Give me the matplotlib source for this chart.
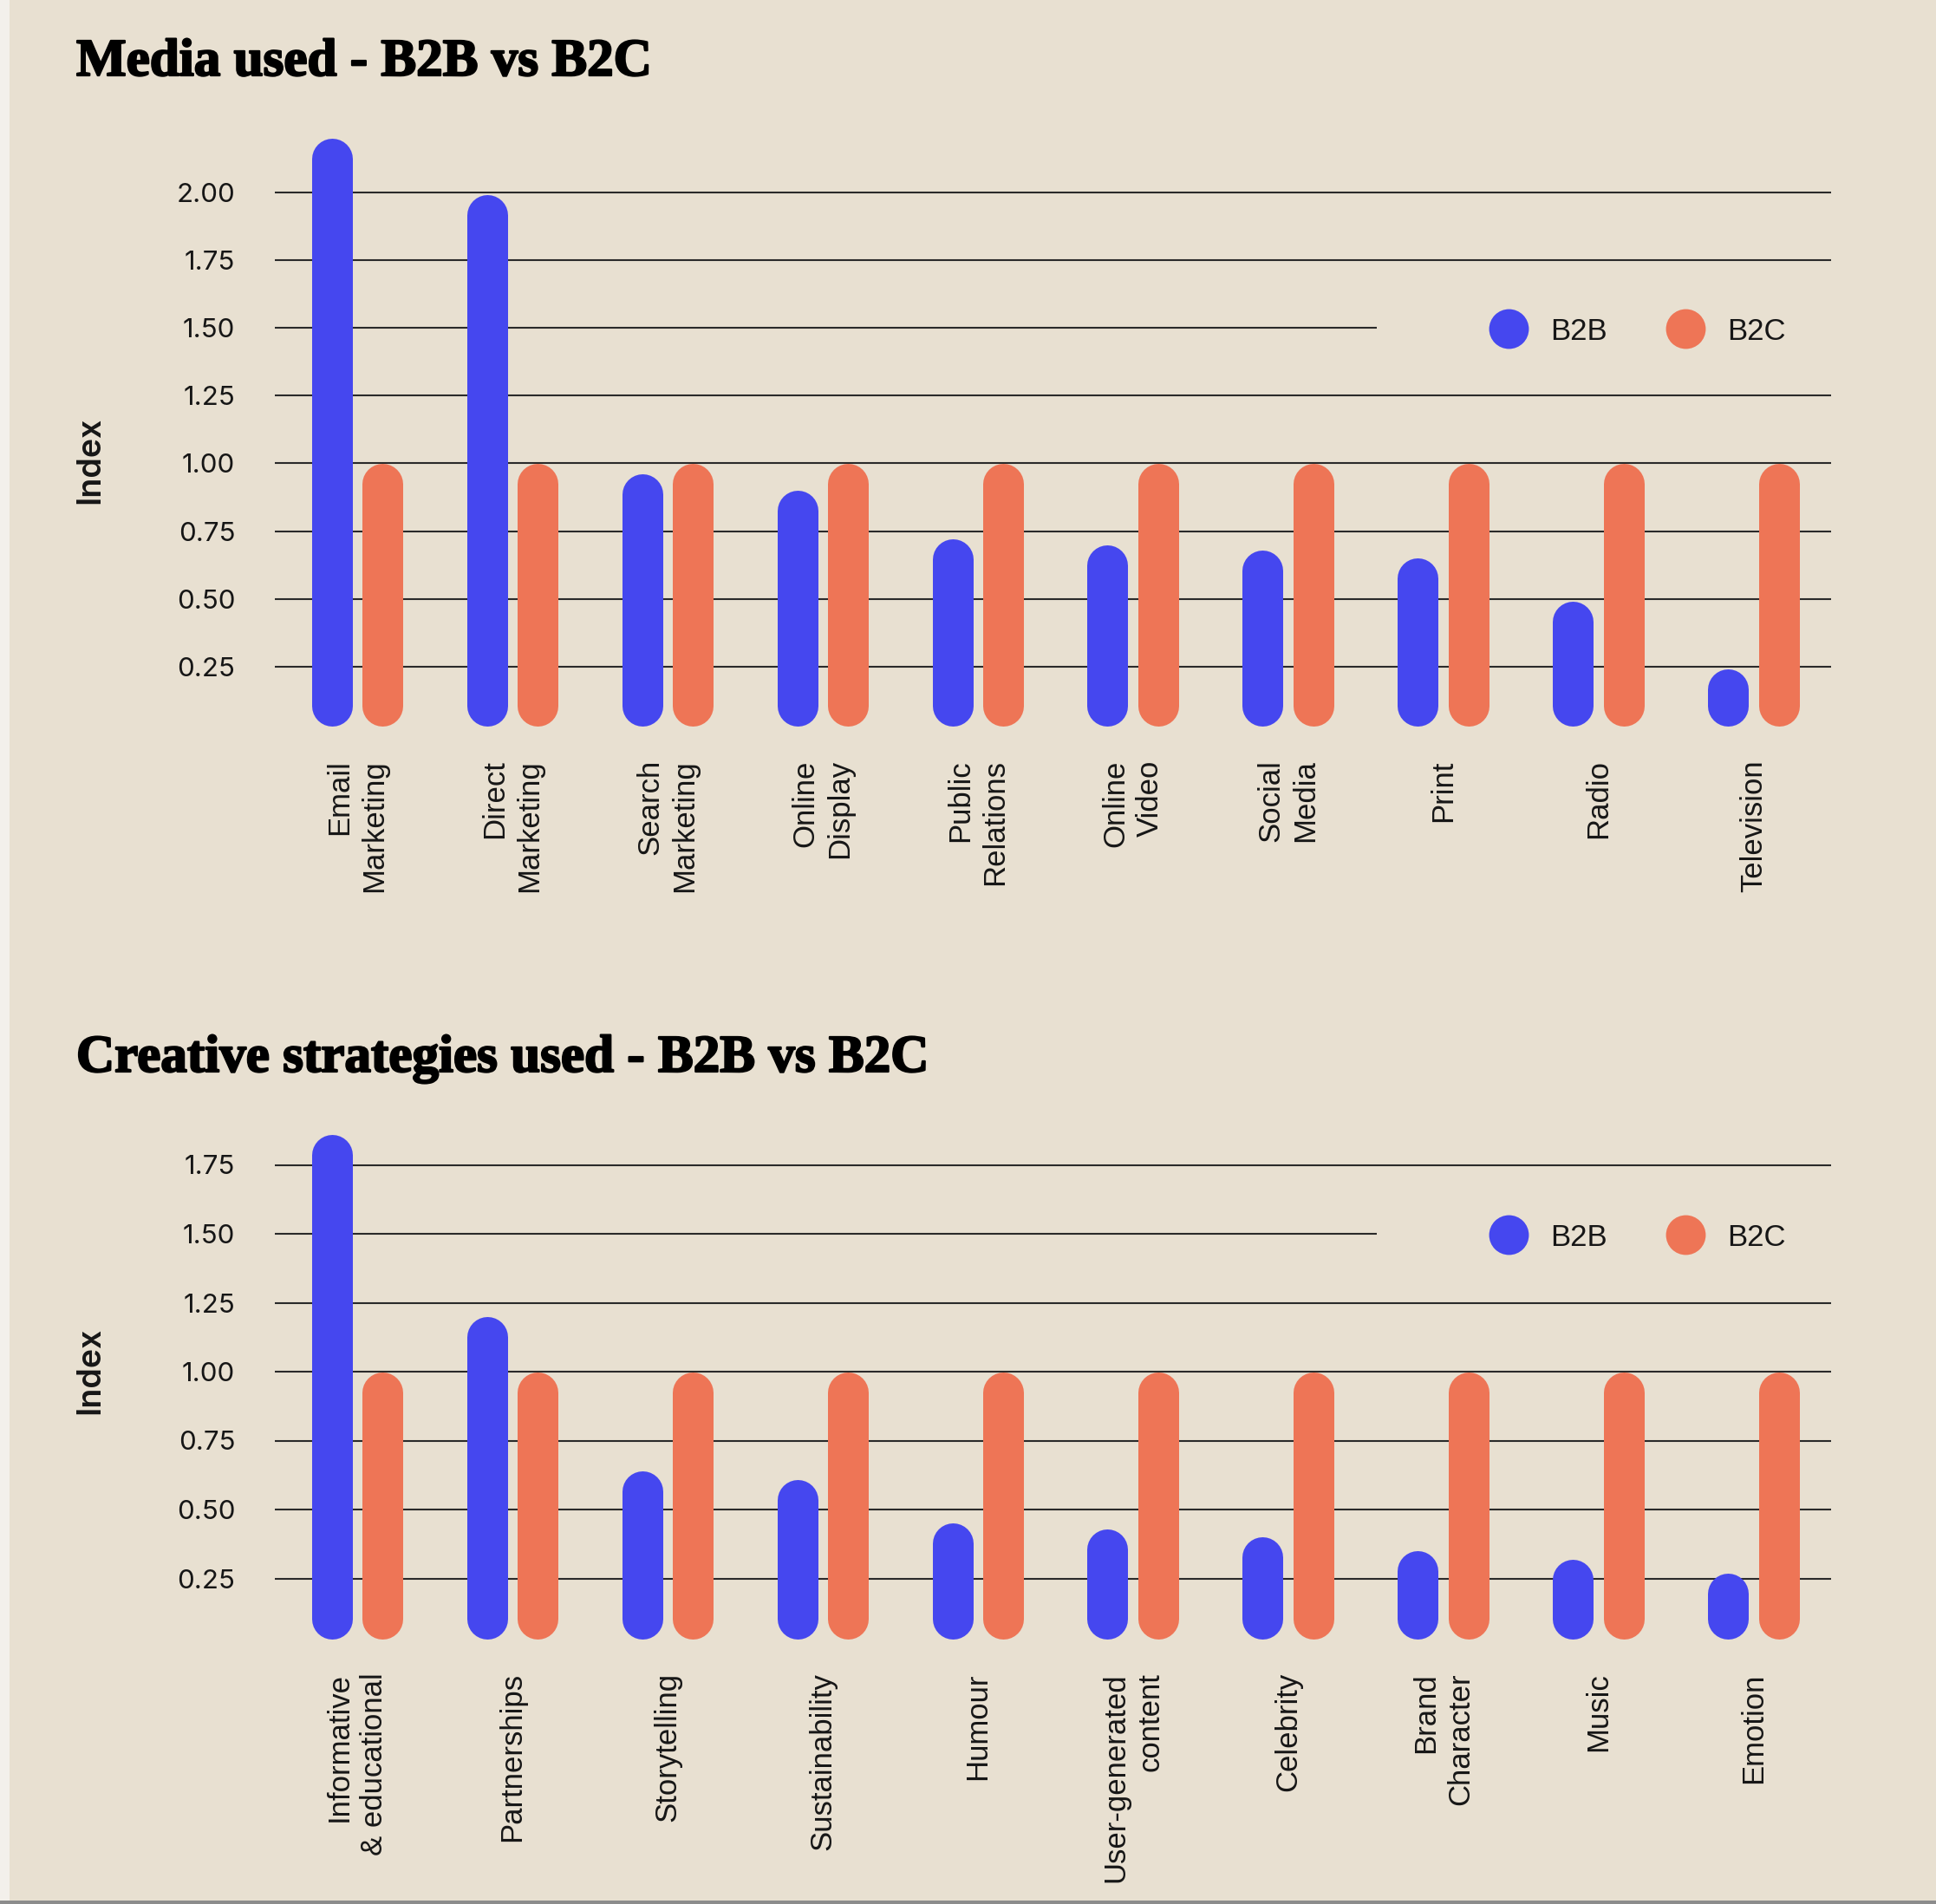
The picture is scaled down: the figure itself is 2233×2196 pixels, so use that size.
"""Media used / creative strategies used: B2B vs B2C index (B2C = 1.00)."""
import numpy as np
import matplotlib
matplotlib.use("Agg")
import matplotlib.pyplot as plt
import matplotlib.patheffects as pe
from matplotlib.lines import Line2D
from matplotlib.patches import Rectangle
from matplotlib.transforms import blended_transform_factory

BG, BLUE, ORANGE = "#E8E0D1", "#4547EF", "#EE7556"
GRID, INK = "#2a2a2a", "#161616"

media_cats = ["Email\nMarketing", "Direct\nMarketing", "Search\nMarketing",
              "Online\nDisplay", "Public\nRelations", "Online\nVideo",
              "Social\nMedia", "Print", "Radio", "Television"]
media_b2b = [2.20, 1.99, 0.96, 0.90, 0.72, 0.70, 0.68, 0.65, 0.49, 0.24]
media_b2c = [1.00, 1.00, 1.00, 1.00, 1.00, 1.00, 1.00, 1.00, 1.00, 1.00]
media_ticks = [0.25, 0.50, 0.75, 1.00, 1.25, 1.50, 1.75, 2.00]

creative_cats = ["Informative\n& educational", "Partnerships", "Storytelling",
                 "Sustainability", "Humour", "User-generated\ncontent",
                 "Celebrity", "Brand\nCharacter", "Music", "Emotion"]
creative_b2b = [1.86, 1.20, 0.64, 0.61, 0.45, 0.43, 0.40, 0.35, 0.32, 0.27]
creative_b2c = [1.00, 1.00, 1.00, 1.00, 1.00, 1.00, 1.00, 1.00, 1.00, 1.00]
creative_ticks = [0.25, 0.50, 0.75, 1.00, 1.25, 1.50, 1.75]

W, H, DPI = 2233, 2196, 100
BAR_PX = 47        # bar width in output pixels
OFFSET = 0.163     # half distance between the pair of bars
BASE = 0.03

fig = plt.figure(figsize=(W / DPI, H / DPI), dpi=DPI, facecolor=BG)


def panel(rect, ymax, cats, b2b, b2c, ticks, title, title_base, index_y, leg_y):
    ax = fig.add_axes(rect)
    ax.set_facecolor("none")
    ax.set_xlim(-0.53, 9.50)
    ax.set_ylim(0, ymax)
    for s in ax.spines.values():
        s.set_visible(False)

    # rounded bars = thick lines with round caps
    r = (BAR_PX / 2) / (rect[3] * H / ymax)
    lw = BAR_PX * 72 / DPI
    x = np.arange(len(cats))
    for xs, vals, c in [(x - OFFSET, b2b, BLUE), (x + OFFSET, b2c, ORANGE)]:
        for xi, v in zip(xs, vals):
            ax.plot([xi, xi], [BASE + r, v - r], color=c, lw=lw,
                    solid_capstyle="round", zorder=3)

    ax.set_yticks(ticks)
    ax.set_yticklabels([f"{t:.2f}" for t in ticks])
    ax.tick_params(axis="y", length=0, pad=33, labelsize=22.5, labelcolor=INK)
    for lbl in ax.get_yticklabels():
        lbl.set_fontfamily("Inter")
    ax.grid(axis="y", color=GRID, lw=1.5)
    ax.set_axisbelow(True)

    ax.set_xticks(x)
    ax.set_xticklabels(cats, rotation=90, fontsize=25, family="Liberation Sans",
                       linespacing=1.28, color=INK)
    ax.tick_params(axis="x", length=0, pad=21)
    for lbl in ax.get_xticklabels():
        lbl.set_multialignment("right")

    ax.text(-0.1187, index_y, "Index", rotation=90, transform=ax.transAxes,
            ha="center", va="center", fontsize=27, family="Inter",
            weight="semibold", color=INK)

    # legend sits over the 1.50 gridline
    tr = blended_transform_factory(ax.transAxes, ax.transData)
    ax.add_patch(Rectangle((0.708, 1.39), 0.32, 0.22, transform=tr, facecolor=BG,
                           edgecolor="none", zorder=1, clip_on=False))
    handles = [Line2D([], [], marker="o", ls="none", ms=33, mfc=c, mec="none")
               for c in (BLUE, ORANGE)]
    leg = ax.legend(handles, ["B2B", "B2C"], loc="center left",
                    bbox_to_anchor=(0.7794, leg_y), ncol=2, frameon=False,
                    borderpad=0, borderaxespad=0, handlelength=1.4,
                    handletextpad=0.68, columnspacing=1.9,
                    prop={"family": "Liberation Sans", "size": 25})
    for t in leg.get_texts():
        t.set_color(INK)

    fig.text(88 / W, 1 - title_base / H, title, family="Liberation Serif",
             weight="bold", fontsize=44, va="baseline", ha="left", color="black",
             path_effects=[pe.withStroke(linewidth=1.6, foreground="black")])
    return ax


panel([317 / W, 1 - 847 / H, 1795 / W, 719 / H], 2.3, media_cats, media_b2b,
      media_b2c, media_ticks, "Media used - B2B vs B2C", 87, 0.4395, 0.6467)
panel([317 / W, 1 - 1900 / H, 1795 / W, 636 / H], 2.0, creative_cats, creative_b2b,
      creative_b2c, creative_ticks, "Creative strategies used - B2B vs B2C", 1236,
      0.5016, 0.7437)

# page edges of the screenshot
fig.add_artist(Rectangle((0, 0), 11 / W, 1, transform=fig.transFigure,
                         facecolor="#F3F0EB", edgecolor="none", zorder=10))
fig.add_artist(Rectangle((0, 0), 1, 4 / H, transform=fig.transFigure,
                         facecolor="#8c8c8c", edgecolor="none", zorder=10))

fig.savefig("out.png", dpi=DPI, facecolor=BG)
